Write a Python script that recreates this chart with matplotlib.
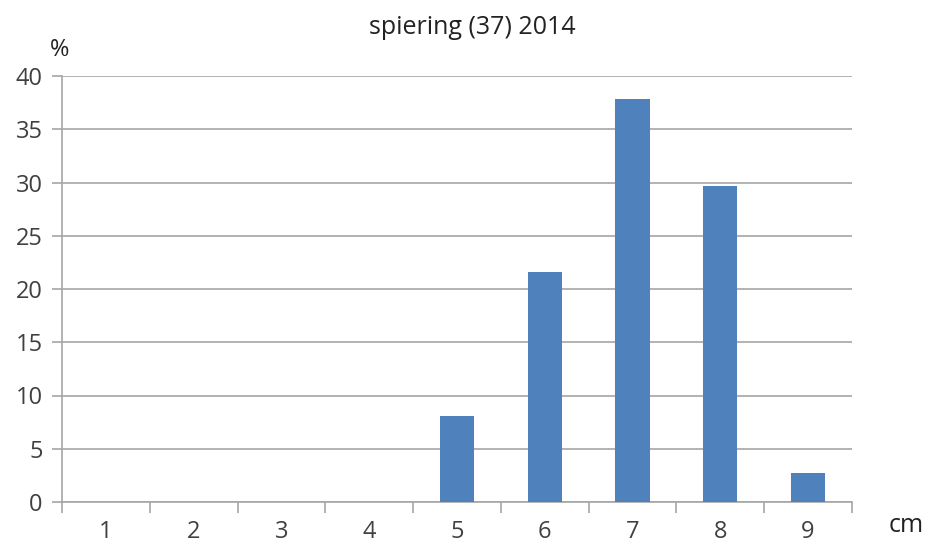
import matplotlib.pyplot as plt
import matplotlib.ticker as ticker

# Data: length classes (cm) and percentages
categories = ["1", "2", "3", "4", "5", "6", "7", "8", "9"]
percent = [0, 0, 0, 0, 8.1, 21.6, 37.8, 29.7, 2.7]
y_ticks = [0, 5, 10, 15, 20, 25, 30, 35, 40]

plt.rcParams["font.family"] = ["Open Sans", "DejaVu Sans"]
text_color = "#404040"
grid_color = "#A6A6A6"

fig = plt.figure(figsize=(9.32, 5.46), dpi=100)
ax = fig.add_axes([62 / 932, 1 - 502 / 546, 790 / 932, 426 / 546])

x = list(range(len(categories)))
ax.bar(x, percent, width=0.39, color="#4F81BD", zorder=3)

ax.set_xlim(-0.5, len(categories) - 0.5)
ax.set_ylim(0, 40)

# y axis
ax.set_yticks(y_ticks)
ax.yaxis.grid(True, color=grid_color, linewidth=1.2, zorder=0)
ax.tick_params(axis="y", length=7, width=1.2, color=grid_color,
               labelsize=17, labelcolor=text_color, pad=7)

# x axis: labels centred, ticks on category boundaries
ax.set_xticks(x)
ax.set_xticklabels(categories)
ax.xaxis.set_minor_locator(ticker.FixedLocator([i - 0.5 for i in range(len(categories) + 1)]))
ax.tick_params(axis="x", which="major", length=0, labelsize=17,
               labelcolor=text_color, pad=13)
ax.tick_params(axis="x", which="minor", length=8, width=1.2, color=grid_color)

for side in ["top", "right"]:
    ax.spines[side].set_visible(False)
for side in ["left", "bottom"]:
    ax.spines[side].set_color(grid_color)
    ax.spines[side].set_linewidth(1.2)

fig.text(472 / 932, 1 - 28 / 546, "spiering (37) 2014", ha="center", va="center",
         fontsize=18, color="#222222")
fig.text(60 / 932, 1 - 50 / 546, "%", ha="center", va="center",
         fontsize=17, color="#222222")
fig.text(906 / 932, 1 - 525 / 546, "cm", ha="center", va="center",
         fontsize=18, color="#222222")

fig.savefig("out.png", dpi=100)
